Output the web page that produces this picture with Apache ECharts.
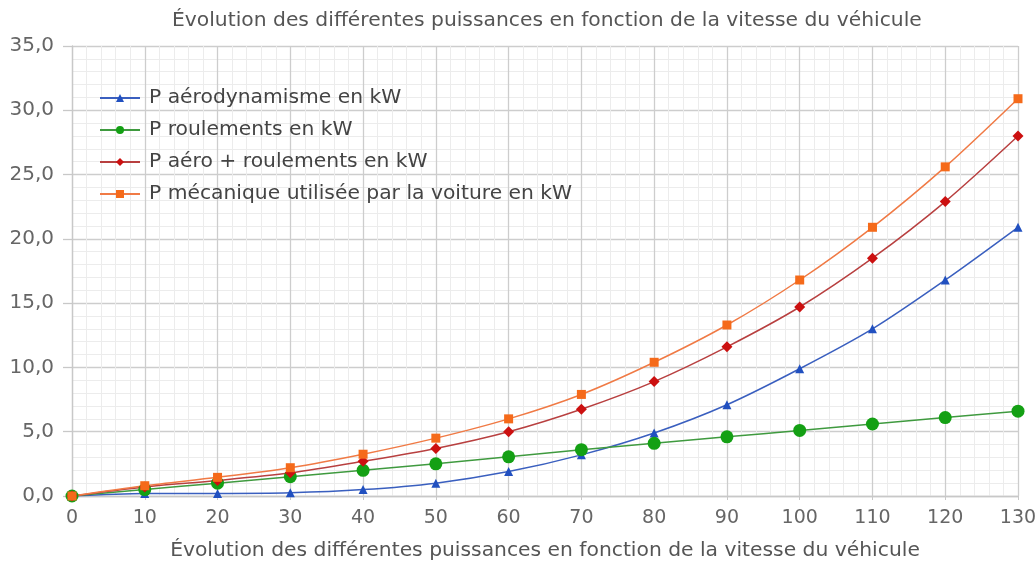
<!DOCTYPE html>
<html lang="fr">
<head>
    <meta charset="UTF-8">
    <title>Puissances</title>
    <script src="https://cdn.jsdelivr.net/npm/echarts@6/dist/echarts.min.js"></script>
</head>
<body style="margin:0">
<div id="main" style="width: 1036px;height: 563px"></div>
<script>
    var vitesses = [0, 10, 20, 30, 40, 50, 60, 70, 80, 90, 100, 110, 120, 130];
    var pAero = [0, 0.2, 0.2, 0.25, 0.5, 1.0, 1.9, 3.2, 4.9, 7.1, 9.9, 13.0, 16.8, 20.9];
    var pRoul = [0, 0.5, 1.0, 1.5, 2.0, 2.5, 3.05, 3.6, 4.1, 4.6, 5.1, 5.6, 6.1, 6.6];
    var pSomme = [0, 0.7, 1.2, 1.8, 2.7, 3.7, 5.0, 6.75, 8.9, 11.6, 14.7, 18.5, 22.9, 28.0];
    var pMeca = [0, 0.8, 1.45, 2.2, 3.25, 4.5, 6.0, 7.9, 10.4, 13.3, 16.8, 20.9, 25.6, 30.9];
    var noms = ['P aérodynamisme en kW', 'P roulements en kW', 'P aéro + roulements en kW', 'P mécanique utilisée par la voiture en kW'];
    var titre = 'Évolution des différentes puissances en fonction de la vitesse du véhicule';

    function paires(ys) {
        return vitesses.map(function (x, i) { return [x, ys[i]]; });
    }

    var police = 'DejaVu Sans';
    var myChart = echarts.init(document.getElementById('main'));
    var option = {
        animation: false,
        textStyle: {fontFamily: police},
        title: {
            text: titre,
            left: 167,
            top: 6,
            textStyle: {fontSize: 20.3, fontWeight: 'normal', color: '#555', fontFamily: police}
        },
        legend: {
            orient: 'vertical',
            left: 94,
            top: 83,
            itemGap: 12,
            itemWidth: 40,
            itemHeight: 10,
            data: noms,
            textStyle: {fontSize: 20.3, color: '#444', fontFamily: police, padding: [0, 0, 0, 4]}
        },
        grid: {
            left: 72,
            right: 18,
            top: 46,
            bottom: 67,
            outerBoundsMode: 'none'
        },
        xAxis: {
            type: 'value',
            min: 0,
            max: 130,
            interval: 10,
            name: titre,
            nameLocation: 'middle',
            nameGap: 45,
            nameTextStyle: {fontSize: 20.3, color: '#555', fontFamily: police},
            axisLine: {show: true, lineStyle: {color: '#c8c8c8', width: 1.3}},
            axisTick: {show: true, length: 4, lineStyle: {color: '#c8c8c8'}},
            axisLabel: {fontSize: 19, color: '#666', margin: 13},
            splitLine: {show: true, lineStyle: {color: '#cdcdcd', width: 1.3}},
            minorTick: {show: false, splitNumber: 5},
            minorSplitLine: {show: true, lineStyle: {color: '#ececec'}}
        },
        yAxis: {
            type: 'value',
            min: 0,
            max: 35,
            interval: 5,
            axisLine: {show: true, lineStyle: {color: '#c8c8c8', width: 1.3}},
            axisTick: {show: true, length: 9, lineStyle: {color: '#c8c8c8', width: 1.3}},
            axisLabel: {
                fontSize: 20, color: '#666', margin: 18,
                formatter: function (v) { return v.toFixed(1).replace('.', ','); }
            },
            splitLine: {show: true, lineStyle: {color: '#cdcdcd', width: 1.3}},
            minorTick: {show: false, splitNumber: 5},
            minorSplitLine: {show: true, lineStyle: {color: '#ececec'}}
        },
        series: [
            {
                name: noms[0], type: 'line', smooth: 0.3,
                data: paires(pAero),
                symbol: 'triangle', symbolSize: 9,
                lineStyle: {color: '#3a5fbf', width: 1.5},
                itemStyle: {color: '#2150c0'}
            },
            {
                name: noms[1], type: 'line', smooth: 0.3,
                data: paires(pRoul),
                symbol: 'circle', symbolSize: 13,
                lineStyle: {color: '#3f9a3f', width: 1.5},
                itemStyle: {color: '#14a014'}
            },
            {
                name: noms[2], type: 'line', smooth: 0.3,
                data: paires(pSomme),
                symbol: 'diamond', symbolSize: 11,
                lineStyle: {color: '#b84040', width: 1.5},
                itemStyle: {color: '#cc1010'}
            },
            {
                name: noms[3], type: 'line', smooth: 0.3,
                data: paires(pMeca),
                symbol: 'rect', symbolSize: 9,
                lineStyle: {color: '#f07a45', width: 1.5},
                itemStyle: {color: '#f56a1a'}
            }
        ]
    };
    myChart.setOption(option);
</script>
</body>
</html>
